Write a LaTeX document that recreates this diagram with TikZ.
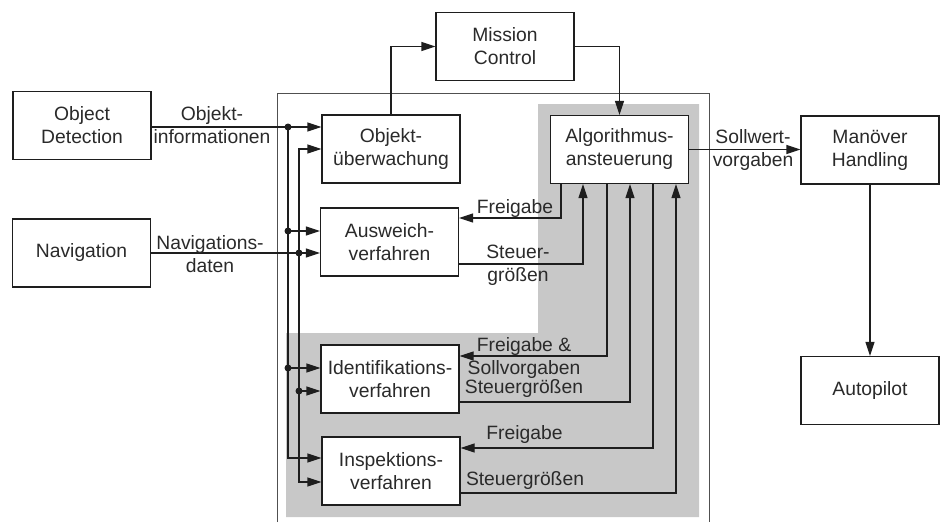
\documentclass[tikz,border=0pt]{standalone}
\usepackage{fontspec}
\setmainfont{Liberation Sans}
\usetikzlibrary{arrows.meta}
\definecolor{linec}{HTML}{1E1E1E}
\definecolor{textc}{HTML}{2A2A2A}
\definecolor{grayc}{HTML}{C8C8C8}
\definecolor{outc}{HTML}{505050}
\newcommand\lblfont{\fontsize{19.3}{23}\selectfont}
\begin{document}
\begin{tikzpicture}[x=1pt,y=-1pt,
  box/.style={draw=linec, line width=1.1pt, fill=white, minimum width=138pt, minimum height=68pt, inner sep=0pt, align=center, font=\lblfont, text=textc},
  lab/.style={align=center, font=\lblfont, text=textc, inner sep=0pt},
  conn/.style={draw=linec, line width=1.1pt},
  arr/.style={conn, -{Triangle[length=14pt,width=9pt]}},
  arrb/.style={conn, {Triangle[length=14pt,width=9pt]}-{Triangle[length=14pt,width=9pt]}},
  jdot/.style={circle, fill=linec, inner sep=0pt, minimum size=7pt}]
\useasboundingbox (0,0) rectangle (944,522);
% grey region and outer frame
\fill[grayc] (538,104) -- (699,104) -- (699,517) -- (286,517) -- (286,333) -- (538,333) -- cycle;
\draw[outc, line width=1pt] (277,522) -- (277,93) -- (709,93) -- (709,522);
% boxes
\node[box] (od) at (82,125.5) {Object\\Detection};
\node[box] (nav) at (81.5,253) {Navigation};
\node[box] (mc) at (505,46.5) {Mission\\Control};
\node[box] (ou) at (391,149) {Objekt-\\überwachung};
\node[box] (aw) at (389.5,242) {Ausweich-\\verfahren};
\node[box] (alg) at (619.5,149.5) {Algorithmus-\\ansteuerung};
\node[box] (id) at (390,379) {Identifikations-\\verfahren};
\node[box] (insp) at (391,471) {Inspektions-\\verfahren};
\node[box] (mh) at (870,150) {Manöver\\Handling};
\node[box] (ap) at (870,390.5) {Autopilot};
% junction coordinates
\coordinate (j1) at (288,127);
\coordinate (j2) at (299,253);
\coordinate (j3) at (288,231);
\coordinate (j4) at (288,368);
\coordinate (j5) at (299,391);
\coordinate (c1) at (288,458);
\coordinate (c2) at (299,149);
\coordinate (c3) at (299,482);
% left inputs
\draw[arr] (od.east |- j1) -- (ou.west |- j1);
\draw[arr] (nav.east |- j2) -- (aw.west |- j2);
\draw[arr] (j1) -- (c1) -- (insp.west |- c1);
\draw[arrb] (ou.west |- c2) -- (c2) -- (c3) -- (insp.west |- c3);
\draw[arr] (j3) -- (aw.west |- j3);
\draw[arr] (j4) -- (id.west |- j4);
\draw[arr] (j5) -- (id.west |- j5);
% mission control
\draw[arr] (ou.north) -- (ou.north |- mc.west) -- (mc.west);
\draw[arr] (mc.east) -- (mc.east -| alg.north) -- (alg.north);
\draw[arr] (alg.east) -- (mh.west |- alg.east);
\draw[arr] (mh.south) -- (ap.north);
% right-hand loops
\coordinate (r1) at (561,218);
\coordinate (r2) at (583,264);
\coordinate (r3) at (607,356);
\coordinate (r4) at (630,402);
\coordinate (r5) at (653,448);
\coordinate (r6) at (676,493);
\draw[arr] (alg.south -| r1) -- (r1) -- (aw.east |- r1);
\draw[arr] (aw.east |- r2) -- (r2) -- (alg.south -| r2);
\draw[arr] (alg.south -| r3) -- (r3) -- (id.east |- r3);
\draw[arr] (id.east |- r4) -- (r4) -- (alg.south -| r4);
\draw[arr] (alg.south -| r5) -- (r5) -- (insp.east |- r5);
\draw[arr] (insp.east |- r6) -- (r6) -- (alg.south -| r6);
% labels
\node[lab] (l1) at (212,125) {Objekt-\\informationen};
\node[lab] (l2) at (210,254) {Navigations-\\daten};
\node[lab] (l3) at (753,150) {Sollwert-\\vorgaben};
\node[lab] (l4) at (515,208.5) {Freigabe};
\node[lab] (l5) at (518,265) {Steuer-\\größen};
\node[lab] (l6) at (524,358) {Freigabe \&\\Sollvorgaben};
\node[lab] (l7) at (524,389) {Steuergrößen};
\node[lab] (l8) at (524.5,435) {Freigabe};
\node[lab] (l9) at (525,481) {Steuergrößen};
% dots
\node[jdot] (d1) at (j1) {};
\node[jdot] (d2) at (j2) {};
\node[jdot] (d3) at (j3) {};
\node[jdot] (d4) at (j4) {};
\node[jdot] (d5) at (j5) {};
\end{tikzpicture}
\end{document}
